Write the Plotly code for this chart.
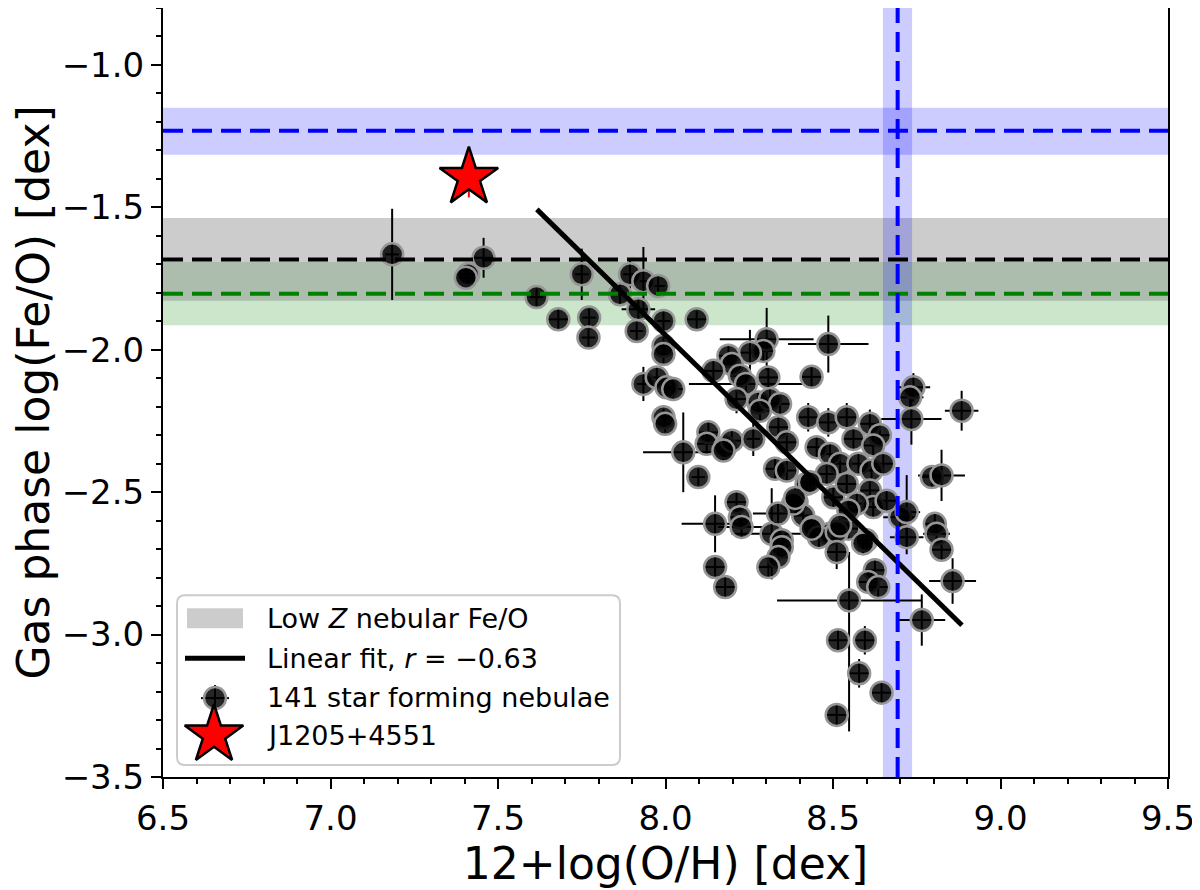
import plotly.graph_objects as go

# 12+log(O/H) and log(Fe/O) for the star forming nebulae
oh = [7.184, 7.411, 7.404, 7.457, 7.615, 7.680, 7.750, 7.772, 7.770, 7.894,
      7.934, 7.978, 7.864, 7.919, 7.914, 7.994, 7.994, 7.994, 7.934, 7.974,
      8.003, 7.994, 8.093, 8.302, 8.486, 8.292, 8.252, 8.188, 8.198, 8.143,
      8.222, 8.307, 8.436, 8.023, 8.240, 8.212, 8.277, 8.312, 8.342, 8.282,
      7.999, 8.053, 8.098, 8.128, 8.123, 8.178, 8.198, 8.262, 8.337, 8.362,
      8.426, 8.486, 8.541, 8.610, 8.640, 8.561, 8.620, 8.451, 8.491, 8.521,
      8.576, 8.615, 8.650, 8.327, 8.362, 8.481, 8.421, 8.391, 8.411, 8.441,
      8.501, 8.541, 8.610, 8.620, 8.571, 8.491, 8.546, 8.600, 8.700, 8.720,
      8.740, 8.730, 8.734, 8.884, 8.795, 8.824, 8.804, 8.809, 8.824, 8.148,
      8.212, 8.222, 8.227, 8.317, 8.347, 8.381, 8.458, 8.511, 8.173, 8.148,
      8.178, 8.347, 8.337, 8.307, 8.436, 8.511, 8.590, 8.625, 8.605, 8.635,
      8.548, 8.515, 8.595, 8.578, 8.645, 8.511, 8.765, 8.857, 8.660, 8.546,
      8.521, 8.720, 8.336, 8.387, 8.431]
feo = [-1.665, -1.735, -1.747, -1.677, -1.815, -1.893, -1.735, -1.887, -1.957, -1.735,
       -1.759, -1.776, -1.805, -1.858, -1.934, -1.899, -1.986, -2.015, -2.120, -2.097,
       -2.132, -2.237, -1.893, -1.963, -1.980, -2.004, -2.010, -2.021, -2.050, -2.074,
       -2.091, -2.097, -2.095, -2.138, -2.120, -2.173, -2.185, -2.173, -2.190, -2.214,
       -2.260, -2.360, -2.447, -2.290, -2.330, -2.342, -2.319, -2.313, -2.272, -2.325,
       -2.237, -2.255, -2.237, -2.260, -2.300, -2.313, -2.336, -2.342, -2.366, -2.400,
       -2.400, -2.424, -2.400, -2.418, -2.424, -2.436, -2.471, -2.535, -2.582, -2.622,
       -2.518, -2.471, -2.494, -2.552, -2.540, -2.646, -2.628, -2.669, -2.588, -2.658,
       -2.132, -2.167, -2.243, -2.214, -2.447, -2.441, -2.611, -2.646, -2.702, -2.611,
       -2.535, -2.588, -2.622, -2.646, -2.669, -2.540, -2.658, -2.640, -2.354, -2.763,
       -2.833, -2.693, -2.728, -2.763, -2.628, -2.710, -2.680, -2.774, -2.815, -2.833,
       -2.880, -3.020, -3.020, -3.136, -3.204, -3.282, -2.949, -2.812, -2.530, -2.564,
       -2.617, -2.570, -2.575, -2.520, -2.465]
oh_err = [0.02, 0.02, 0.02, 0.03, 0.02, 0.03, 0.02, 0.02, 0.02, 0.02,
          0.02, 0.02, 0.02, 0.05, 0.02, 0.02, 0.02, 0.02, 0.02, 0.02,
          0.02, 0.02, 0.03, 0.14, 0.12, 0.03, 0.03, 0.03, 0.03, 0.03,
          0.03, 0.03, 0.03, 0.03, 0.17, 0.03, 0.03, 0.03, 0.03, 0.03,
          0.02, 0.12, 0.02, 0.03, 0.03, 0.03, 0.03, 0.02, 0.03, 0.03,
          0.03, 0.03, 0.03, 0.03, 0.03, 0.03, 0.03, 0.03, 0.03, 0.03,
          0.03, 0.03, 0.03, 0.03, 0.03, 0.03, 0.03, 0.03, 0.03, 0.03,
          0.03, 0.03, 0.03, 0.03, 0.03, 0.03, 0.03, 0.03, 0.05, 0.05,
          0.05, 0.04, 0.09, 0.05, 0.03, 0.07, 0.03, 0.04, 0.03, 0.10,
          0.03, 0.03, 0.07, 0.12, 0.03, 0.03, 0.03, 0.03, 0.03, 0.03,
          0.03, 0.03, 0.03, 0.03, 0.03, 0.03, 0.03, 0.03, 0.03, 0.03,
          0.215, 0.03, 0.03, 0.03, 0.03, 0.03, 0.07, 0.07, 0.03, 0.03,
          0.03, 0.04, 0.075, 0.03, 0.03]
feo_err = [0.16, 0.03, 0.03, 0.07, 0.03, 0.04, 0.09, 0.03, 0.03, 0.05,
           0.12, 0.04, 0.04, 0.04, 0.03, 0.04, 0.03, 0.03, 0.06, 0.04,
           0.04, 0.03, 0.03, 0.11, 0.10, 0.04, 0.08, 0.04, 0.04, 0.04,
           0.04, 0.04, 0.04, 0.04, 0.04, 0.05, 0.04, 0.04, 0.04, 0.04,
           0.03, 0.14, 0.03, 0.04, 0.04, 0.04, 0.04, 0.06, 0.04, 0.04,
           0.05, 0.05, 0.05, 0.05, 0.04, 0.04, 0.04, 0.04, 0.04, 0.04,
           0.04, 0.04, 0.04, 0.04, 0.04, 0.04, 0.04, 0.04, 0.04, 0.04,
           0.04, 0.04, 0.04, 0.04, 0.04, 0.04, 0.04, 0.04, 0.04, 0.06,
           0.05, 0.04, 0.09, 0.07, 0.04, 0.09, 0.04, 0.04, 0.04, 0.10,
           0.04, 0.04, 0.04, 0.16, 0.04, 0.04, 0.04, 0.04, 0.04, 0.04,
           0.04, 0.04, 0.04, 0.04, 0.04, 0.06, 0.04, 0.04, 0.04, 0.04,
           0.17, 0.04, 0.05, 0.05, 0.04, 0.04, 0.09, 0.08, 0.04, 0.04,
           0.04, 0.13, 0.04, 0.04, 0.04]
feo_err_lo = list(feo_err)
feo_err_lo[110] = 0.46

# J1205+4551
star_oh = [7.413]
star_feo = [-1.395]
star_err = [0.07]

# linear fit end points
fit_oh = [7.616, 8.885]
fit_feo = [-1.507, -2.967]

# reference levels: (centre, low, high)
solar_feo = (-1.231, -1.315, -1.150)
lowz_feo = (-1.683, -1.828, -1.537)
green_feo = (-1.803, -1.914, -1.692)
solar_oh = (8.693, 8.649, 8.736)

legend_labels = ["Low <i>Z</i> nebular Fe/O",
                 "Linear fit, <i>r</i> = \u22120.63",
                 "141 star forming nebulae",
                 "J1205+4551"]

font = "DejaVu Sans"
dash = "20px,9px"

# plot area in page pixels (page has an 8px body margin)
PX0, PX1, PY0, PY1 = 163, 1168, 7, 777


def px(x):
    return (x - PX0) / (PX1 - PX0)


def py(y):
    return (PY1 - y) / (PY1 - PY0)


def rounded_box(x0, y0, x1, y1, r):
    a, b, c, d = px(x0), py(y1), px(x1), py(y0)
    rx, ry = r / (PX1 - PX0), r / (PY1 - PY0)
    return (f"M{a+rx},{b} L{c-rx},{b} Q{c},{b} {c},{b+ry} L{c},{d-ry} Q{c},{d} {c-rx},{d} "
            f"L{a+rx},{d} Q{a},{d} {a},{d-ry} L{a},{b+ry} Q{a},{b} {a+rx},{b} Z")


fig = go.Figure()

fig.add_trace(go.Scatter(x=oh, y=feo, mode="markers",
                         error_x=dict(type="data", array=oh_err, color="black", thickness=2, width=0),
                         error_y=dict(type="data", array=feo_err, arrayminus=feo_err_lo,
                                      color="black", thickness=2, width=0),
                         marker=dict(size=22, color="rgba(0,0,0,0.85)",
                                     line=dict(color="rgb(150,150,150)", width=2.5)),
                         name=legend_labels[2], showlegend=False))

fig.add_trace(go.Scatter(x=star_oh, y=star_feo, mode="markers",
                         error_y=dict(type="data", array=star_err, color="red", thickness=2, width=0),
                         marker=dict(symbol="star", size=44, color="red",
                                     line=dict(color="black", width=2.5)),
                         name=legend_labels[3], showlegend=False))

fig.add_trace(go.Scatter(x=fit_oh, y=fit_feo, mode="lines",
                         line=dict(color="black", width=5),
                         name=legend_labels[1], showlegend=False))

# legend keys drawn on an overlay axis that spans the plot area as 0..1
fig.add_trace(go.Scatter(x=[px(215)], y=[py(698)], xaxis="x2", yaxis="y2", mode="markers",
                         error_x=dict(type="constant", value=14 / (PX1 - PX0), color="black",
                                      thickness=2, width=0),
                         error_y=dict(type="constant", value=13 / (PY1 - PY0), color="black",
                                      thickness=2, width=0),
                         marker=dict(size=22, color="rgba(0,0,0,0.85)",
                                     line=dict(color="rgb(150,150,150)", width=2.5)),
                         showlegend=False, hoverinfo="skip"))
fig.add_trace(go.Scatter(x=[px(214)], y=[py(735)], xaxis="x2", yaxis="y2", mode="markers",
                         marker=dict(symbol="star", size=44, color="red",
                                     line=dict(color="black", width=2.5)),
                         showlegend=False, hoverinfo="skip"))

shapes = [
    dict(type="rect", xref="paper", yref="y", x0=0, x1=1, y0=green_feo[1], y1=green_feo[2],
         fillcolor="rgba(0,128,0,0.2)", line=dict(width=0), layer="below"),
    dict(type="rect", xref="paper", yref="y", x0=0, x1=1, y0=lowz_feo[1], y1=lowz_feo[2],
         fillcolor="rgba(128,128,128,0.4)", line=dict(width=0), layer="below"),
    dict(type="rect", xref="paper", yref="y", x0=0, x1=1, y0=solar_feo[1], y1=solar_feo[2],
         fillcolor="rgba(0,0,255,0.2)", line=dict(width=0), layer="below"),
    dict(type="rect", xref="x", yref="paper", x0=solar_oh[1], x1=solar_oh[2], y0=0, y1=1,
         fillcolor="rgba(0,0,255,0.2)", line=dict(width=0), layer="below"),
    dict(type="line", xref="paper", yref="y", x0=0, x1=1, y0=lowz_feo[0], y1=lowz_feo[0],
         line=dict(color="black", width=4, dash=dash)),
    dict(type="line", xref="paper", yref="y", x0=0, x1=1, y0=green_feo[0], y1=green_feo[0],
         line=dict(color="green", width=4, dash=dash)),
    dict(type="line", xref="paper", yref="y", x0=0, x1=1, y0=solar_feo[0], y1=solar_feo[0],
         line=dict(color="blue", width=4, dash=dash)),
    dict(type="line", xref="x", yref="paper", x0=solar_oh[0], x1=solar_oh[0], y0=0, y1=1,
         line=dict(color="blue", width=4, dash=dash)),
    # legend frame and keys
    dict(type="path", xref="paper", yref="paper", path=rounded_box(177, 595, 620, 765, 8),
         fillcolor="rgba(255,255,255,0.85)", line=dict(color="#cccccc", width=2), layer="below"),
    dict(type="rect", xref="paper", yref="paper", x0=px(187), x1=px(243), y0=py(628), y1=py(608),
         fillcolor="rgba(128,128,128,0.4)", line=dict(width=0), layer="below"),
    dict(type="line", xref="paper", yref="paper", x0=px(185), x1=px(245), y0=py(658), y1=py(658),
         line=dict(color="black", width=5), layer="below"),
]

annotations = [dict(xref="paper", yref="paper", x=px(265), y=py(row), text=label,
                    xanchor="left", yanchor="middle", showarrow=False,
                    font=dict(family=font, size=27, color="black"))
               for label, row in zip(legend_labels, [618, 658, 697, 735])]

axis_style = dict(showline=True, linecolor="black", linewidth=2, mirror=True,
                  ticks="outside", ticklen=10, tickwidth=2, tickcolor="black",
                  showgrid=False, zeroline=False,
                  tickfont=dict(family=font, size=34, color="black"),
                  minor=dict(ticks="outside", ticklen=5, tickwidth=1.5, tickcolor="black", dtick=0.1))

fig.update_layout(
    width=1200, height=890,
    paper_bgcolor="white", plot_bgcolor="white",
    margin=dict(l=PX0 - 8, r=1200 - PX1 + 8, t=PY0 - 7, b=890 - (PY1 - 8)),
    shapes=shapes, annotations=annotations, showlegend=False,
    font=dict(family=font, color="black"),
    xaxis=dict(range=[6.5, 9.5], dtick=0.5, tickformat=".1f",
               title=dict(text="12+log(O/H) [dex]", font=dict(family=font, size=44), standoff=6),
               automargin=False, **axis_style),
    yaxis=dict(range=[-3.5, -0.8], dtick=0.5, tick0=-3.5, tickformat=".1f",
               title=dict(text="Gas phase log(Fe/O) [dex]", font=dict(family=font, size=44), standoff=22),
               automargin=False, **axis_style),
    xaxis2=dict(overlaying="x", range=[0, 1], visible=False),
    yaxis2=dict(overlaying="y", range=[0, 1], visible=False),
)

fig.write_html("out.html")
